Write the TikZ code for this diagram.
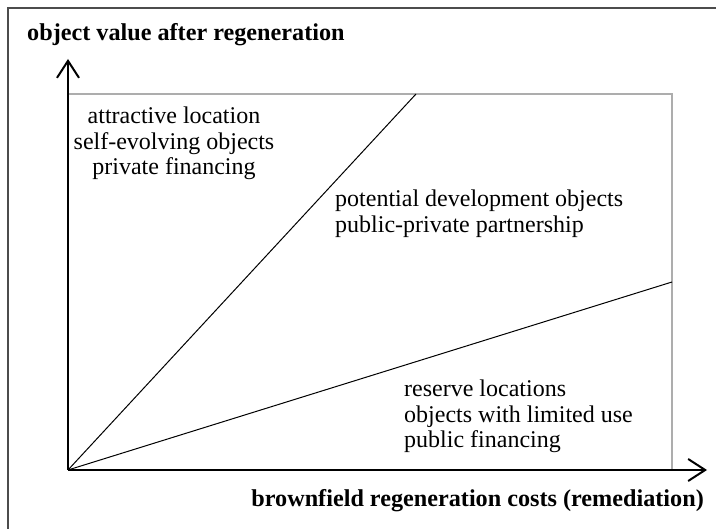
\documentclass[tikz,border=0pt]{standalone}
\usepackage{fontspec}
\setmainfont{Liberation Serif}
\usetikzlibrary{arrows.meta}

\begin{document}
\begin{tikzpicture}[x=1pt, y=-1pt, every node/.style={font=\fontsize{24}{25.5}\selectfont, inner sep=0pt},
    axis/.style={line width=2pt, -{Straight Barb[length=17pt, width=22pt, line width=2pt]}},
    boxline/.style={line width=2pt, black!32},
    bold label/.style={font=\fontsize{24.2}{26}\selectfont\bfseries}]
    \useasboundingbox (0,0) rectangle (716,529);
    % frame, cut off at the right and at the bottom
    \draw[line width=1.5pt, black!70] (8,545) -- (8,8) -- (740,8);
    % points of the diagram
    \coordinate (o) at (68,470);
    \coordinate (xend) at (707,470);
    \coordinate (yend) at (68,59);
    \coordinate (ne) at (672,94);
    \coordinate (steep) at (416,94);
    \coordinate (flat) at (672,282);
    \draw[boxline] (o |- ne) -- (ne) -- (ne |- o);
    \draw[line width=1pt] (o) -- (steep);
    \draw[line width=1pt] (o) -- (flat);
    \draw[axis] (o) -- (xend);
    \draw[axis] (o) -- (yend);
    % labels
    \node[bold label, anchor=base west] (ylab) at (27,41) {object value after regeneration};
    \node[bold label, anchor=base east] (xlab) at (704,507) {brownfield regeneration costs (remediation)};
    \node[anchor=north, align=center] (attr) at (174,107) {attractive location\\self-evolving objects\\private financing};
    \node[anchor=north west, align=left] (pot) at (335,190) {potential development objects\\public-private partnership};
    \node[anchor=north west, align=left] (res) at (404,380) {reserve locations\\objects with limited use\\public financing};
\end{tikzpicture}
\end{document}
